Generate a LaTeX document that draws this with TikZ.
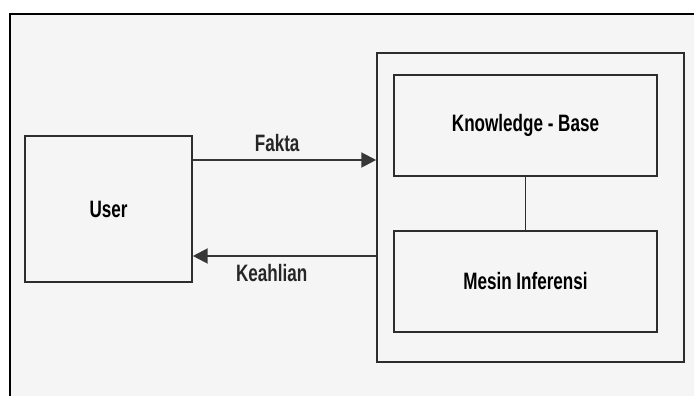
\documentclass[tikz,border=0pt]{standalone}
\usepackage{fontspec}
\setmainfont{Liberation Sans}
\newfontfamily\boxfont[FakeStretch=0.72]{Liberation Sans}
\usepackage{tikz}
\usetikzlibrary{positioning,arrows.meta,calc}
\definecolor{bgcol}{RGB}{245,245,245}
\definecolor{linecol}{RGB}{45,45,45}
\definecolor{arcol}{RGB}{55,55,55}

\begin{document}
\begin{tikzpicture}[
  blk/.style={rectangle, draw=linecol, fill=bgcol, line width=0.9pt,
              font=\boxfont\bfseries\fontsize{13.5}{15}\selectfont,
              minimum width=#1, align=center},
  ar/.style={-{Triangle[length=8.5pt,width=8.5pt]}, line width=1.2pt, arcol},
  lb/.style={font=\boxfont\bfseries\fontsize{13.5}{15}\selectfont, text=black!85}
]

\useasboundingbox (0,0) rectangle (13.88,-7.92);
\fill[white] (0,0) rectangle (13.88,-7.92);
\draw[line width=1.4pt, fill=bgcol] (0.2,-0.28) rectangle (14.2,-8.3);

\node[blk=3.34cm, minimum height=2.92cm] (user) at (2.17,-4.18) {User};
\node[blk=6.14cm, minimum height=6.18cm] (sys) at (10.61,-4.15) {};
\node[blk=5.26cm, minimum height=2.02cm] (kb) at (10.51,-2.51) {Knowledge - Base};
\node[blk=5.26cm, minimum height=2.02cm] (mi) at (10.51,-5.63) {Mesin Inferensi};

\draw[linecol, line width=0.9pt] (kb.south) -- (mi.north);

\draw[ar] ([yshift=0.98cm]user.east) -- ([yshift=0.98cm]user.east -| sys.west)
  node[lb, above=1pt, pos=0.46] (fakta) {Fakta};
\draw[ar] ([yshift=-0.94cm]user.east -| sys.west) -- ([yshift=-0.94cm]user.east)
  node[lb, below=1pt, pos=0.57] (keahlian) {Keahlian};

\end{tikzpicture}
\end{document}
